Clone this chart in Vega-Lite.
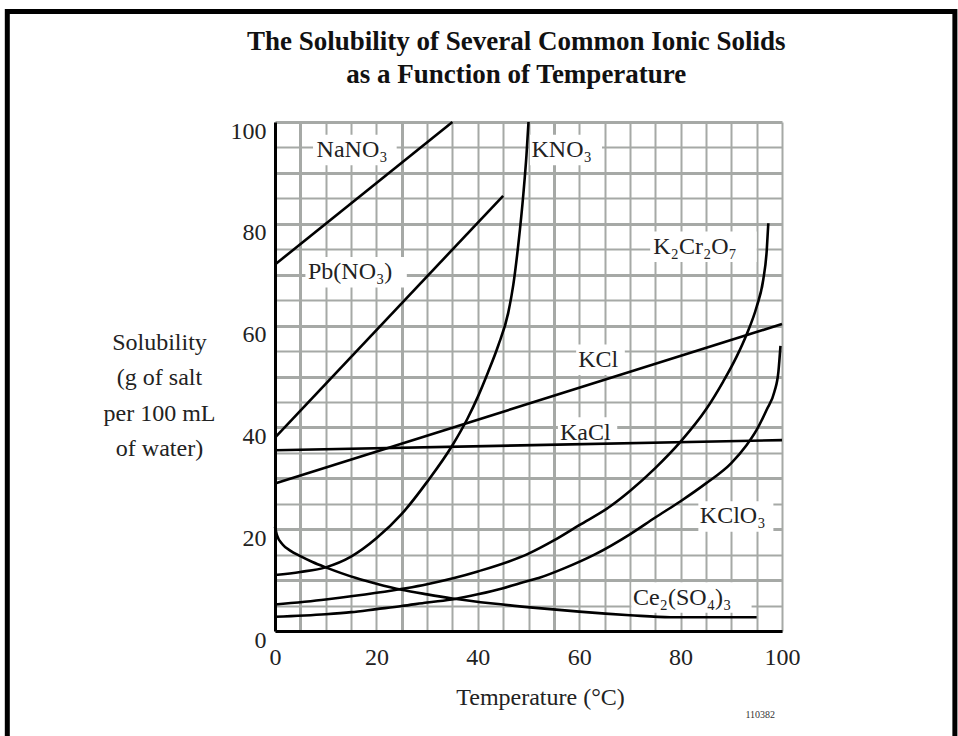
{
  "$schema": "https://vega.github.io/schema/vega-lite/v6.json",
  "width": 507,
  "height": 509,
  "autosize": {"type": "none"},
  "padding": {"left": 275, "top": 122, "right": 176, "bottom": 105},
  "background": "white",
  "datasets": {
    "curves": [
      {"compound": "NaNO3", "T": 0, "S": 72}, {"compound": "NaNO3", "T": 35, "S": 100},
      {"compound": "Pb(NO3)2", "T": 0, "S": 38}, {"compound": "Pb(NO3)2", "T": 45, "S": 85.5},
      {"compound": "KCl", "T": 0, "S": 29}, {"compound": "KCl", "T": 100, "S": 60.3},
      {"compound": "NaCl", "T": 0, "S": 35.5}, {"compound": "NaCl", "T": 100, "S": 37.5},
      {"compound": "KNO3", "T": 0, "S": 11}, {"compound": "KNO3", "T": 5, "S": 11.6}, {"compound": "KNO3", "T": 10, "S": 12.5},
      {"compound": "KNO3", "T": 15, "S": 14.6}, {"compound": "KNO3", "T": 20, "S": 18.2}, {"compound": "KNO3", "T": 25, "S": 23},
      {"compound": "KNO3", "T": 30, "S": 29.3}, {"compound": "KNO3", "T": 35, "S": 36.5}, {"compound": "KNO3", "T": 38, "S": 41.8},
      {"compound": "KNO3", "T": 40, "S": 46}, {"compound": "KNO3", "T": 42, "S": 50.8}, {"compound": "KNO3", "T": 44, "S": 56},
      {"compound": "KNO3", "T": 46, "S": 62.5}, {"compound": "KNO3", "T": 47, "S": 68}, {"compound": "KNO3", "T": 48, "S": 76},
      {"compound": "KNO3", "T": 49, "S": 86}, {"compound": "KNO3", "T": 49.6, "S": 93.5}, {"compound": "KNO3", "T": 50, "S": 100},
      {"compound": "Ce2(SO4)3", "T": 0, "S": 20.5}, {"compound": "Ce2(SO4)3", "T": 0.4, "S": 18.8}, {"compound": "Ce2(SO4)3", "T": 1.5, "S": 17},
      {"compound": "Ce2(SO4)3", "T": 3, "S": 15.8}, {"compound": "Ce2(SO4)3", "T": 5, "S": 14.7}, {"compound": "Ce2(SO4)3", "T": 7.5, "S": 13.5},
      {"compound": "Ce2(SO4)3", "T": 10, "S": 12.5}, {"compound": "Ce2(SO4)3", "T": 16, "S": 10.4},
      {"compound": "Ce2(SO4)3", "T": 20, "S": 9.3}, {"compound": "Ce2(SO4)3", "T": 25, "S": 8.1}, {"compound": "Ce2(SO4)3", "T": 30, "S": 7.2},
      {"compound": "Ce2(SO4)3", "T": 35, "S": 6.4}, {"compound": "Ce2(SO4)3", "T": 43, "S": 5.4}, {"compound": "Ce2(SO4)3", "T": 52, "S": 4.5},
      {"compound": "Ce2(SO4)3", "T": 60, "S": 3.8}, {"compound": "Ce2(SO4)3", "T": 70, "S": 3.1}, {"compound": "Ce2(SO4)3", "T": 78, "S": 2.7},
      {"compound": "Ce2(SO4)3", "T": 95, "S": 2.7},
      {"compound": "K2Cr2O7", "T": 0, "S": 5.2}, {"compound": "K2Cr2O7", "T": 10, "S": 6.2}, {"compound": "K2Cr2O7", "T": 20, "S": 7.5},
      {"compound": "K2Cr2O7", "T": 30, "S": 9.2}, {"compound": "K2Cr2O7", "T": 40, "S": 11.7}, {"compound": "K2Cr2O7", "T": 50, "S": 15.2},
      {"compound": "K2Cr2O7", "T": 55, "S": 17.8}, {"compound": "K2Cr2O7", "T": 60, "S": 20.8}, {"compound": "K2Cr2O7", "T": 66, "S": 24.4},
      {"compound": "K2Cr2O7", "T": 70, "S": 27.5}, {"compound": "K2Cr2O7", "T": 75, "S": 32}, {"compound": "K2Cr2O7", "T": 80, "S": 37.2},
      {"compound": "K2Cr2O7", "T": 85, "S": 43.5}, {"compound": "K2Cr2O7", "T": 88.4, "S": 49}, {"compound": "K2Cr2O7", "T": 91, "S": 53.8},
      {"compound": "K2Cr2O7", "T": 93, "S": 58.2}, {"compound": "K2Cr2O7", "T": 95, "S": 63.7}, {"compound": "K2Cr2O7", "T": 96.3, "S": 69},
      {"compound": "K2Cr2O7", "T": 97, "S": 74.9}, {"compound": "K2Cr2O7", "T": 97.3, "S": 80.1},
      {"compound": "KClO3", "T": 0, "S": 2.8}, {"compound": "KClO3", "T": 10, "S": 3.3}, {"compound": "KClO3", "T": 15, "S": 3.7},
      {"compound": "KClO3", "T": 20, "S": 4.3}, {"compound": "KClO3", "T": 25, "S": 4.9}, {"compound": "KClO3", "T": 30, "S": 5.6},
      {"compound": "KClO3", "T": 35.5, "S": 6.3}, {"compound": "KClO3", "T": 40, "S": 7.2}, {"compound": "KClO3", "T": 45, "S": 8.4},
      {"compound": "KClO3", "T": 48.3, "S": 9.4}, {"compound": "KClO3", "T": 52, "S": 10.4}, {"compound": "KClO3", "T": 57, "S": 12.3},
      {"compound": "KClO3", "T": 63, "S": 15}, {"compound": "KClO3", "T": 70, "S": 19}, {"compound": "KClO3", "T": 75, "S": 22.3},
      {"compound": "KClO3", "T": 80, "S": 25.5}, {"compound": "KClO3", "T": 85, "S": 29}, {"compound": "KClO3", "T": 90, "S": 33},
      {"compound": "KClO3", "T": 93, "S": 36.5}, {"compound": "KClO3", "T": 95, "S": 39.5}, {"compound": "KClO3", "T": 97, "S": 43.5},
      {"compound": "KClO3", "T": 98.5, "S": 47}, {"compound": "KClO3", "T": 99.3, "S": 51}, {"compound": "KClO3", "T": 99.7, "S": 56}
    ],
    "labels": [
      {"text": "NaNO₃", "T": 8.2, "S": 94.5},
      {"text": "KNO₃", "T": 50.6, "S": 94.5},
      {"text": "Pb(NO₃)", "T": 6.5, "S": 70.5},
      {"text": "K₂Cr₂O₇", "T": 74.6, "S": 75.5},
      {"text": "KCl", "T": 59.8, "S": 53.3},
      {"text": "KaCl", "T": 56.2, "S": 38.9},
      {"text": "KClO₃", "T": 83.8, "S": 22.5},
      {"text": "Ce₂(SO₄)₃", "T": 70.6, "S": 6.5}
    ],
    "boxes": [
      {"T": 7.5, "T2": 24, "S": 91.5, "S2": 97.5},
      {"T": 50.3, "T2": 64.5, "S": 91.5, "S2": 97.5},
      {"T": 6, "T2": 26, "S": 67.5, "S2": 73.5},
      {"T": 74, "T2": 95, "S": 72.5, "S2": 78.5},
      {"T": 59.4, "T2": 69, "S": 50.3, "S2": 56.3},
      {"T": 55.8, "T2": 67.5, "S": 37.8, "S2": 42},
      {"T": 83.5, "T2": 98.3, "S": 19.5, "S2": 25.5},
      {"T": 70.3, "T2": 94, "S": 3.6, "S2": 9.6}
    ],
    "frame": [
      {"T": -52.8, "T2": 134.1, "S": 121.7, "S2": -22.4}
    ],
    "titles": [
      {"text": "The Solubility of Several Common Ionic Solids", "T": 47.6, "S": 115.8},
      {"text": "as a Function of Temperature", "T": 47.6, "S": 109.2}
    ],
    "note": [
      {"text": "110382", "T": 95.7, "S": -16.5}
    ]
  },
  "encoding": {
    "x": {
      "field": "T",
      "type": "quantitative",
      "scale": {"domain": [0, 100], "nice": false, "zero": false},
      "axis": {
        "values": [0, 5, 10, 15, 20, 25, 30, 35, 40, 45, 50, 55, 60, 65, 70, 75, 80, 85, 90, 95, 100],
        "labelExpr": "datum.value % 20 === 0 ? datum.label : ''",
        "grid": true,
        "gridColor": "#a6a9a6",
        "gridWidth": {"condition": {"test": "datum.value === 5 || datum.value === 25 || datum.value === 55", "value": 3}, "value": 2},
        "domainColor": "black",
        "domainWidth": 3,
        "ticks": false,
        "tickSize": 0,
        "labelPadding": 26,
        "labelBaseline": "middle",
        "labelFont": "Liberation Serif",
        "labelFontSize": 24,
        "labelColor": "#222222",
        "labelFlush": false,
        "labelOverlap": false,
        "title": "Temperature (°C)",
        "titleFont": "Liberation Serif",
        "titleFontSize": 24,
        "titleFontWeight": "normal",
        "titleColor": "#222222",
        "titleX": 265,
        "titleY": 73,
        "titleAlign": "center",
        "titleBaseline": "alphabetic"
      }
    },
    "y": {
      "field": "S",
      "type": "quantitative",
      "scale": {"domain": [0, 100], "nice": false, "zero": false},
      "axis": {
        "values": [0, 5, 10, 15, 20, 25, 30, 35, 40, 45, 50, 55, 60, 65, 70, 75, 80, 85, 90, 95, 100],
        "labelExpr": "datum.value % 20 === 0 ? datum.label : ''",
        "grid": true,
        "gridColor": "#a6a9a6",
        "gridWidth": {"condition": {"test": "datum.value % 10 === 0", "value": 3}, "value": 2},
        "domainColor": "black",
        "domainWidth": 3,
        "ticks": false,
        "tickSize": 0,
        "labelPadding": 9,
        "labelOffset": 9,
        "labelAlign": "right",
        "labelBaseline": "middle",
        "labelFont": "Liberation Serif",
        "labelFontSize": 24,
        "labelColor": "#222222",
        "labelFlush": false,
        "labelOverlap": false,
        "title": ["Solubility", "(g of salt", "per 100 mL", "of water)"],
        "titleFont": "Liberation Serif",
        "titleFontSize": 24,
        "titleFontWeight": "normal",
        "titleColor": "#222222",
        "titleAngle": 0,
        "titleAlign": "center",
        "titleBaseline": "alphabetic",
        "titleLineHeight": 35.5,
        "titleX": -116,
        "titleY": 227
      }
    }
  },
  "layer": [
    {
      "data": {"name": "frame"},
      "mark": {"type": "rect", "fill": "white", "fillOpacity": 0, "stroke": "black", "strokeWidth": 5, "clip": false},
      "encoding": {"x2": {"field": "T2"}, "y2": {"field": "S2"}}
    },
    {
      "data": {"name": "boxes"},
      "mark": {"type": "rect", "fill": "white", "stroke": null},
      "encoding": {"x2": {"field": "T2"}, "y2": {"field": "S2"}}
    },
    {
      "data": {"name": "curves"},
      "mark": {"type": "line", "interpolate": "monotone", "stroke": "black", "strokeWidth": 2.6, "strokeCap": "butt"},
      "encoding": {"detail": {"field": "compound", "type": "nominal"}}
    },
    {
      "data": {"name": "labels"},
      "mark": {"type": "text", "align": "left", "baseline": "middle", "font": "Liberation Serif", "fontSize": 24, "color": "#222222"},
      "encoding": {"text": {"field": "text", "type": "nominal"}}
    },
    {
      "data": {"name": "titles"},
      "mark": {"type": "text", "align": "center", "baseline": "middle", "font": "Liberation Serif", "fontSize": 27, "fontWeight": "bold", "color": "#111111", "clip": false},
      "encoding": {"text": {"field": "text", "type": "nominal"}}
    },
    {
      "data": {"name": "note"},
      "mark": {"type": "text", "align": "center", "baseline": "middle", "font": "Liberation Serif", "fontSize": 10, "color": "#333333", "clip": false},
      "encoding": {"text": {"field": "text", "type": "nominal"}}
    }
  ],
  "config": {
    "view": {"stroke": null},
    "axis": {"zindex": 0}
  }
}
